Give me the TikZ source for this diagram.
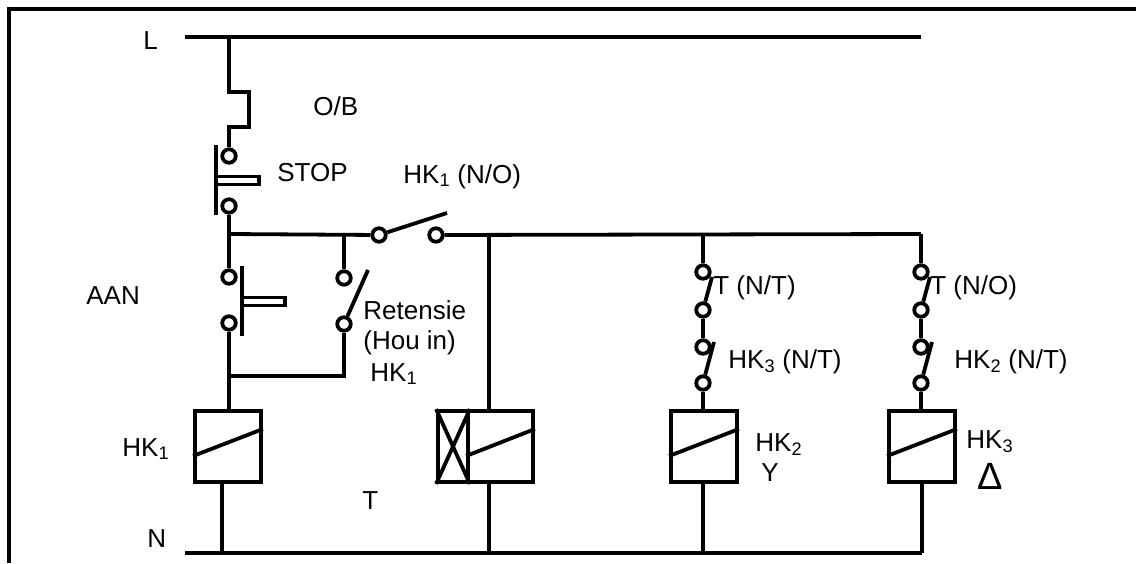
\documentclass[tikz,border=0pt]{standalone}
\usepackage{fontspec}
\setmainfont{Liberation Sans}
\newcommand{\sublabel}[2]{#1\textsubscript{#2}}
\begin{document}
\begin{tikzpicture}[x=1pt,y=-1pt,line width=3.8pt,
	contact/.style = {draw, circle, fill=white, minimum size=13.5pt, inner sep=0pt},
	coil/.style = {draw, rectangle, minimum width=66pt, minimum height=71pt, inner sep=0pt},
	btn/.style = {draw, rectangle, minimum width=43pt, minimum height=8pt, inner sep=0pt, outer sep=0pt},
	txt/.style = {anchor=base west, inner sep=0pt, xshift=-1.5pt, font=\fontsize{26}{30}\selectfont}]
	\useasboundingbox (0,0) rectangle (1136,563);
	% frame
	\coordinate (fa) at (9,563);
	\coordinate (fb) at (1136,9);
	\draw (fa) |- (fb);

	% rails
	\coordinate (L0) at (185,37);
	\coordinate (L1) at (921,37);
	\coordinate (N0) at (185,553);
	\coordinate (N1) at (922,553);
	\draw (L0) -- (L1);
	\draw (N0) -- (N1);
	\coordinate (J0) at (229,234);
	\coordinate (J1) at (344,234);
	\coordinate (J2) at (489,234);
	\coordinate (J3) at (703,234);
	\coordinate (J4) at (921,234);
	\coordinate (Ltap) at (229,37);

	% overload and stop
	\coordinate (ob1) at (229,92);
	\coordinate (ob2) at (249,92);
	\coordinate (ob3) at (249,127);
	\coordinate (ob4) at (229,127);
	\node[contact] (stop1) at (229,156) {};
	\node[contact] (stop2) [below of=stop1, node distance=50pt] {};
	\draw (Ltap) -- (ob1) -- (ob2) -- (ob3) -- (ob4) -- (stop1);
	\draw (stop2) -- (J0);
	\coordinate (stopbar1) at (216,145);
	\coordinate (stopbar2) at (216,215);
	\draw (stopbar1) -- (stopbar2);
	\node[btn, anchor=west] (stopbtn) at (216,180.5) {};

	% start and hold-in
	\node[contact] (aan1) at (229,277) {};
	\node[contact] (aan2) [below of=aan1, node distance=46pt] {};
	\draw (J0) -- (aan1);
	\coordinate (aanbar1) at (242,266);
	\coordinate (aanbar2) at (242,336);
	\draw (aanbar1) -- (aanbar2);
	\node[btn, anchor=west] (aanbtn) at (242,301.5) {};
	\node[contact] (hold1) at (344,278) {};
	\node[contact] (hold2) [below of=hold1, node distance=46pt] {};
	\coordinate (holdarm) at (368,270);
	\coordinate (hold3) at (344,376);
	\coordinate (aan3) at (229,376);
	\draw (J1) -- (hold1);
	\draw (hold2) -- (holdarm);
	\draw (hold2) -- (hold3) -- (aan3);

	% main contact
	\node[contact] (hk1) at (379,235) {};
	\node[contact] (hk2) [right of=hk1, node distance=57pt] {};
	\coordinate (hkarm) at (447,213);
	\draw (J0) -- (hk1);
	\draw (hk1) -- (hkarm);
	\draw (hk2) -- (J4);

	% coils
	\node[coil] (coil1) at (228,446.5) {};
	\node[coil, minimum width=30pt] (delay) at (453,446.5) {};
	\node[coil, minimum width=65pt] (coilT) at (500.5,446.5) {};
	\node[coil] (coil2) at (704,446.5) {};
	\node[coil] (coil3) [right of=coil2, node distance=218pt] {};
	\draw ([yshift=-9.5pt]coil1.west) -- ([yshift=17.5pt]coil1.east);
	\draw ([yshift=-9.5pt]coilT.west) -- ([yshift=17.5pt]coilT.east);
	\draw ([yshift=-9.5pt]coil2.west) -- ([yshift=17.5pt]coil2.east);
	\draw ([yshift=-9.5pt]coil3.west) -- ([yshift=17.5pt]coil3.east);
	\draw (delay.north west) -- (delay.south east);
	\draw (delay.north east) -- (delay.south west);
	\coordinate (N2) at (222,553);
	\coordinate (N3) at (489,553);
	\coordinate (N4) at (703,553);
	\draw (aan2) -- (coil1.north -| aan2);
	\draw (coil1.south -| N2) -- (N2);
	\draw (J2) -- (coilT.north -| J2);
	\draw (coilT.south -| N3) -- (N3);
	\draw (coil2.south -| N4) -- (N4);
	\draw (coil3.south -| N1) -- (N1);

	% branch HK2
	\node[contact] (ta1) at (703,272) {};
	\node[contact] (ta2) [below of=ta1, node distance=38pt] {};
	\node[contact] (ka1) [below of=ta2, node distance=37pt] {};
	\node[contact] (ka2) [below of=ka1, node distance=36pt] {};
	\coordinate (taarm) at (712,277);
	\coordinate (kaarm) at (714,342);
	\draw (J3) -- (ta1);
	\draw (ta2) -- (taarm);
	\draw (ta2) -- (ka1);
	\draw (ka2) -- (kaarm);
	\draw (ka2) -- (coil2.north -| ka2);

	% branch HK3
	\node[contact] (tb1) at (921,272) {};
	\node[contact] (tb2) [below of=tb1, node distance=38pt] {};
	\node[contact] (kb1) [below of=tb2, node distance=37pt] {};
	\node[contact] (kb2) [below of=kb1, node distance=36pt] {};
	\coordinate (tbarm) at (930,277);
	\coordinate (kbarm) at (932,342);
	\draw (J4) -- (tb1);
	\draw (tb2) -- (tbarm);
	\draw (tb2) -- (kb1);
	\draw (kb2) -- (kbarm);
	\draw (kb2) -- (coil3.north -| kb2);

	% texts
	\node[txt] (tL) at (143,49) {L};
	\node[txt] (tOB) at (313,115) {O/B};
	\node[txt] (tSTOP) at (277,181) {STOP};
	\node[txt] (tHKa) at (403,183) {\sublabel{HK}{1} (N/O)};
	\node[txt] (tAAN) at (86,304) {AAN};
	\node[txt] (tRet) at (363,319) {Retensie};
	\node[txt] (tHou) at (363,349) {(Hou in)};
	\node[txt] (tHKb) at (370,381) {\sublabel{HK}{1}};
	\node[txt] (tHKc) at (122,456) {\sublabel{HK}{1}};
	\node[txt] (tT) at (362,509) {T};
	\node[txt] (tN) at (147,547) {N};
	\node[txt] (tTa) at (713,294) {T (N/T)};
	\node[txt] (tTb) at (930,294) {T (N/O)};
	\node[txt] (tKa) at (728,368) {\sublabel{HK}{3} (N/T)};
	\node[txt] (tKb) at (954,368) {\sublabel{HK}{2} (N/T)};
	\node[txt] (tHKd) at (755,451) {\sublabel{HK}{2}};
	\node[txt] (tY) at (761,481) {Y};
	\node[txt] (tHKe) at (966,448) {\sublabel{HK}{3}};
	\node[txt, font=\fontsize{38}{40}\selectfont] (tD) at (977,489) {Δ};
\end{tikzpicture}
\end{document}
